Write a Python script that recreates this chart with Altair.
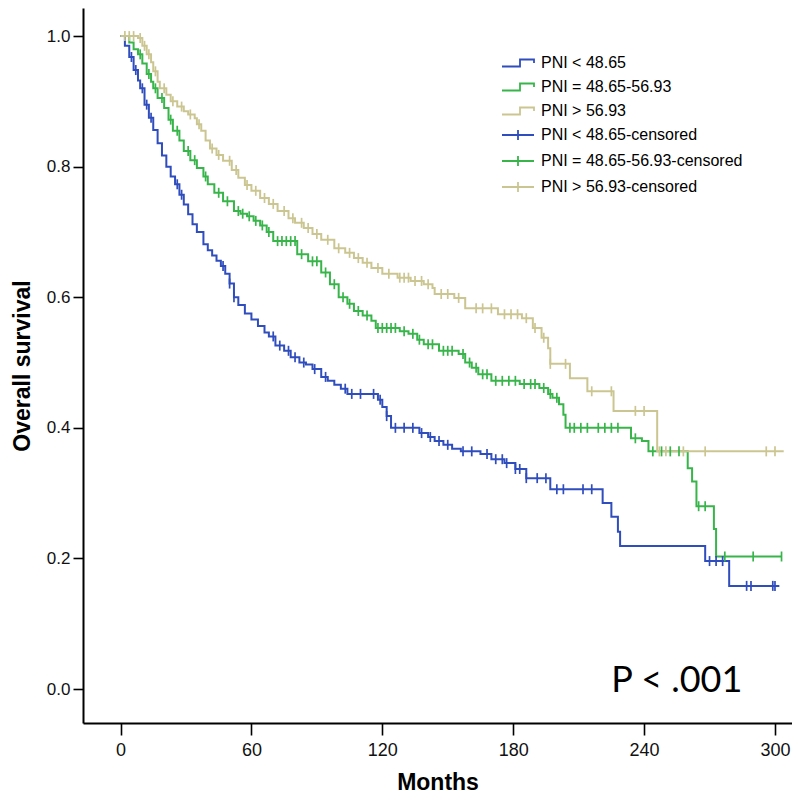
import altair as alt
import pandas as pd

groups = ["PNI < 48.65", "PNI = 48.65-56.93", "PNI > 56.93"]
censor_labels = ["PNI < 48.65-censored", "PNI = 48.65-56.93-censored", "PNI > 56.93-censored"]
colors = ["#2f4dbd", "#38b54a", "#cbc691"]

x_ticks = [0, 60, 120, 180, 240, 300]
y_ticks = [0.0, 0.2, 0.4, 0.6, 0.8, 1.0]

# PNI < 48.65 : event times (months) and survival after each step
blue_t = [0, 2, 4, 6, 8, 9, 11, 13, 15, 17, 19, 21, 23, 25, 27, 29, 31, 33, 35, 38,
          40, 42, 44, 46, 48, 50, 52, 54, 57, 60, 63, 66, 68, 71, 75, 78, 82, 85, 88, 92,
          95, 98, 101, 104, 118, 120, 122, 124, 137, 141, 144, 148, 152, 156, 165, 170,
          176, 181, 186, 197, 221, 225, 228, 229, 268, 279, 302]
blue_s = [1.0, 0.985, 0.968, 0.948, 0.932, 0.92, 0.895, 0.875, 0.856, 0.836, 0.817, 0.80,
          0.785, 0.773, 0.757, 0.742, 0.727, 0.712, 0.70, 0.681, 0.672, 0.664, 0.656, 0.648,
          0.636, 0.621, 0.60, 0.588, 0.575, 0.566, 0.556, 0.546, 0.54, 0.526, 0.518, 0.508,
          0.50, 0.497, 0.49, 0.478, 0.472, 0.466, 0.46, 0.452, 0.443, 0.432, 0.418, 0.40,
          0.392, 0.386, 0.38, 0.374, 0.368, 0.364, 0.36, 0.352, 0.346, 0.337, 0.323, 0.306,
          0.285, 0.264, 0.241, 0.219, 0.196, 0.158, 0.158]

# PNI = 48.65-56.93
green_t = [0, 4, 6, 8, 10, 12, 14, 15, 17, 20, 22, 24, 27, 29, 32, 35, 38, 40, 43, 47,
           52, 55, 58, 61, 64, 67, 70, 81, 86, 92, 96, 100, 104, 107, 111, 115, 117, 128,
           132, 136, 139, 146, 155, 158, 161, 164, 170, 183, 192, 196, 198, 201, 203, 204,
           234, 239, 242, 260, 262, 264, 272, 273, 303]
green_s = [1.0, 0.99, 0.98, 0.972, 0.958, 0.942, 0.93, 0.92, 0.905, 0.89, 0.872, 0.855,
           0.84, 0.824, 0.81, 0.798, 0.785, 0.773, 0.76, 0.747, 0.732, 0.728, 0.724, 0.717,
           0.71, 0.70, 0.686, 0.666, 0.655, 0.638, 0.62, 0.60, 0.59, 0.579, 0.572, 0.564,
           0.553, 0.548, 0.544, 0.535, 0.528, 0.518, 0.513, 0.50, 0.492, 0.482, 0.472, 0.467,
           0.461, 0.452, 0.446, 0.436, 0.42, 0.40, 0.384, 0.38, 0.364, 0.338, 0.318, 0.28,
           0.245, 0.203, 0.203]

# PNI > 56.93
beige_t = [0, 8, 10, 12, 14, 15, 17, 18, 21, 23, 26, 29, 31, 34, 35, 37, 39, 41, 44, 47,
           51, 54, 57, 60, 64, 68, 72, 77, 80, 84, 88, 92, 98, 103, 107, 111, 115, 120, 127,
           133, 139, 143, 144, 153, 158, 173, 184, 189, 193, 196, 197, 206, 214, 226, 246, 304]
beige_s = [1.0, 0.997, 0.985, 0.972, 0.96, 0.946, 0.93, 0.92, 0.91, 0.90, 0.892, 0.885,
           0.88, 0.874, 0.865, 0.855, 0.84, 0.828, 0.818, 0.809, 0.795, 0.783, 0.772, 0.763,
           0.752, 0.743, 0.732, 0.721, 0.714, 0.706, 0.697, 0.688, 0.675, 0.668, 0.66, 0.653,
           0.645, 0.636, 0.63, 0.625, 0.62, 0.614, 0.605, 0.599, 0.583, 0.574, 0.568, 0.553,
           0.538, 0.522, 0.498, 0.476, 0.456, 0.426, 0.364, 0.364]

# censoring times (months)
blue_c = [5, 7, 10, 12, 14, 26, 28, 47, 50, 52, 70, 73, 77, 80, 84, 89, 94, 103, 106, 110,
          116, 119, 122, 126, 130, 134, 138, 142, 146, 150, 157, 161, 168, 172, 175, 177,
          181, 183, 186, 191, 195, 200, 203, 212, 216, 270, 273, 276, 287, 289, 299, 300]
green_c = [9, 13, 16, 19, 23, 26, 31, 34, 39, 45, 49, 54, 56, 59, 62, 65, 68, 72, 74, 76,
           78, 80, 83, 88, 90, 94, 98, 102, 105, 109, 113, 118, 120, 122, 124, 126, 130, 134,
           137, 141, 143, 148, 150, 152, 157, 160, 163, 166, 168, 172, 175, 178, 181, 185,
           188, 190, 194, 197, 200, 206, 208, 211, 214, 219, 222, 225, 228, 236, 244, 248,
           252, 256, 265, 268, 277, 290, 303]
beige_c = [2, 4, 6, 9, 11, 13, 16, 20, 24, 28, 32, 36, 42, 45, 50, 53, 58, 62, 66, 70, 75,
           79, 83, 86, 90, 95, 100, 105, 109, 113, 118, 123, 128, 130, 132, 135, 138, 141,
           147, 150, 155, 163, 166, 170, 176, 179, 182, 186, 190, 194, 197, 204, 216, 225,
           236, 240, 247, 250, 258, 268, 296, 300]

p_label = "P < .001"
p_x = 255
p_y = 0.012

assert len(blue_t) == len(blue_s)
assert len(green_t) == len(green_s)
assert len(beige_t) == len(beige_s)


def step_value(ts, ss, c):
    val = ss[0]
    for t, s in zip(ts, ss):
        if t <= c:
            val = s
        else:
            break
    return val


series_t = [blue_t, green_t, beige_t]
series_s = [blue_s, green_s, beige_s]
series_c = [blue_c, green_c, beige_c]

rows = []
for g, ts, ss in zip(groups, series_t, series_s):
    for t, s in zip(ts, ss):
        rows.append({"group": g, "t": t, "s": s})
lines_df = pd.DataFrame(rows)

crows = []
for lab, ts, ss, cs in zip(censor_labels, series_t, series_s, series_c):
    for c in cs:
        crows.append({"label": lab, "t": c, "s": step_value(ts, ss, c)})
cens_df = pd.DataFrame(crows)

text_df = pd.DataFrame({"t": [p_x], "s": [p_y], "label": [p_label]})

STEP_PATH = "M-1,0.7L2.6,0.7L2.6,-0.7L5.4,-0.7L5.4,0"
CROSS_PATH = "M-1,0L5.4,0M2.2,-1L2.2,1"

x_scale = alt.Scale(domain=[-17.2, 307.8], nice=False, zero=False)
y_scale = alt.Scale(domain=[-0.052, 1.043], nice=False, zero=False)

x_axis = alt.Axis(values=x_ticks, title="Months", grid=False, tickSize=12, labelPadding=6,
                  labelFontSize=18, titleFontSize=23, titlePadding=12, titleFontWeight="bold")
y_axis = alt.Axis(values=y_ticks, format=".1f", title="Overall survival", grid=False,
                  tickSize=10, labelPadding=3, labelFontSize=17, titleFontSize=23,
                  titlePadding=12, titleFontWeight="bold")

legend_common = dict(title=None, orient="none", legendX=416, symbolSize=100,
                     symbolStrokeWidth=1.8, symbolFillColor="transparent",
                     labelFontSize=16, labelOffset=26, labelLimit=0, rowPadding=8, padding=0)

lines = alt.Chart(lines_df).mark_line(interpolate="step-after", strokeWidth=2).encode(
    x=alt.X("t:Q", scale=x_scale, axis=x_axis),
    y=alt.Y("s:Q", scale=y_scale, axis=y_axis),
    color=alt.Color(
        "group:N",
        scale=alt.Scale(domain=groups, range=colors),
        legend=alt.Legend(legendY=47, symbolType=STEP_PATH, **legend_common),
    ),
)

cens = alt.Chart(cens_df).mark_point(shape="M0,-1L0,1", size=100, strokeWidth=1.7,
                                     filled=False, opacity=1).encode(
    x=alt.X("t:Q", scale=x_scale),
    y=alt.Y("s:Q", scale=y_scale),
    stroke=alt.Stroke(
        "label:N",
        scale=alt.Scale(domain=censor_labels, range=colors),
        legend=alt.Legend(legendY=119, symbolType=CROSS_PATH, **legend_common),
    ),
)

ptext = alt.Chart(text_df).mark_text(fontSize=36, font="Lato", align="center",
                                     baseline="middle", color="black").encode(
    x=alt.X("t:Q", scale=x_scale),
    y=alt.Y("s:Q", scale=y_scale),
    text="label:N",
)

chart = alt.layer(lines, cens, ptext).properties(
    width=709, height=715,
    autosize=alt.AutoSizeParams(type="none"),
    padding={"left": 75, "top": 0, "right": 0, "bottom": 85},
    background="white",
).configure_view(stroke=None).configure_axis(
    domainColor="black", domainWidth=2, tickColor="black", tickWidth=1.6,
    labelColor="#111111", titleColor="black", labelFont="Liberation Sans",
    titleFont="Liberation Sans",
).configure_legend(labelFont="Liberation Sans", labelColor="black")

chart.save("out.html", embed_options={"renderer": "svg", "actions": False})
